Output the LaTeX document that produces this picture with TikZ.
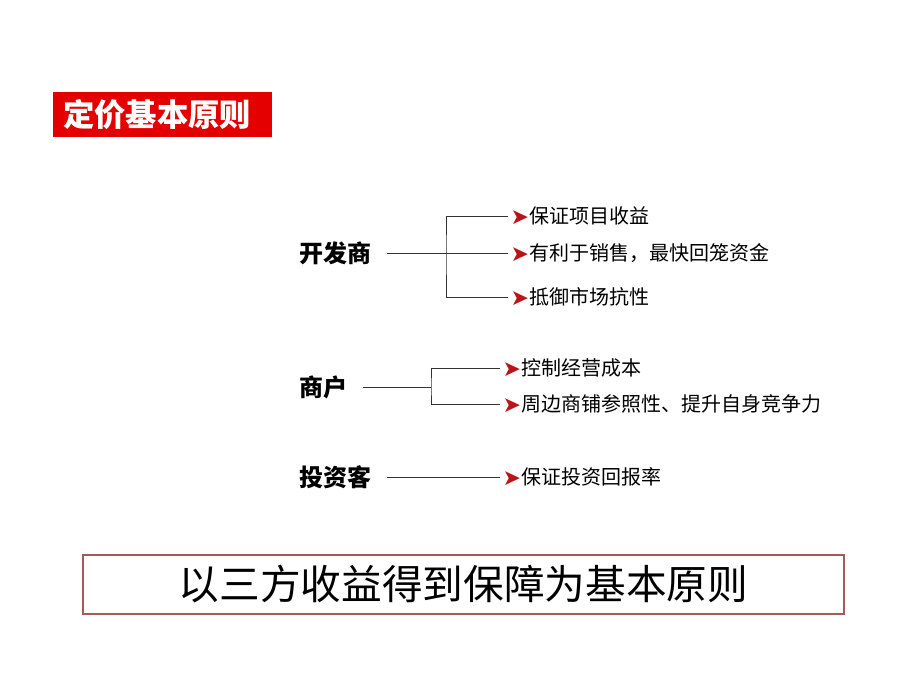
\documentclass[tikz,border=0pt]{standalone}
\usepackage{fontspec}
\setmainfont{Noto Sans CJK SC}
\newfontfamily\sym{DejaVu Sans}
\usepackage{tikz}

\definecolor{hdrred}{RGB}{228,0,0}
\definecolor{mkred}{RGB}{185,20,25}
\definecolor{boxline}{RGB}{165,90,90}

\tikzset{
  party/.style={anchor=west, inner sep=0pt, outer xsep=12pt, font=\bfseries\fontsize{18}{18}\selectfont},
  aim/.style={anchor=west, inner sep=0pt, outer xsep=2pt, font=\fontsize{15}{15}\selectfont},
  link/.style={line width=0.7pt, black!80}
}
\newcommand{\mk}{\raisebox{-0.5pt}{\sym\fontsize{16.5}{16.5}\selectfont\color{mkred}➤}\hspace{0.5pt}}

\begin{document}
\begin{tikzpicture}[x=0.75pt,y=-0.75pt]

\useasboundingbox (0,0) rectangle (920,690);

% title
\node (hdr) [anchor=north west, fill=hdrred, text=white, inner xsep=7.5pt,
  text width=149pt, align=left, minimum height=33.75pt,
  font=\bfseries\fontsize{23.5}{23.5}\selectfont] at (53,92) {定价基本原则};

% the three parties
\node (dev) [party] at (283,253) {开发商};
\node (mer) [party] at (283,387) {商户};
\node (inv) [party] at (283,477) {投资客};

% what each one wants
\node (dev1) [aim] at (508,216) {\mk 保证项目收益};
\node (dev2) [aim] at (508,253) {\mk 有利于销售，最快回笼资金};
\node (dev3) [aim] at (508,297) {\mk 抵御市场抗性};

\node (mer1) [aim] at (500,368) {\mk 控制经营成本};
\node (mer2) [aim] at (500,404) {\mk 周边商铺参照性、提升自身竞争力};

\node (inv1) [aim] at (500,477) {\mk 保证投资回报率};

\coordinate (devfork) at (446,253);
\coordinate (merfork) at (431,387);

\draw [link] (dev.east) -- (dev2.west);
\draw [link] (dev1.west) -| (devfork) |- (dev3.west);

\draw [link] (mer.east) -- (merfork);
\draw [link] (mer1.west) -| (merfork) |- (mer2.west);

\draw [link] (inv.east) -- (inv1.west);

% bottom line
\node (motto) [draw=boxline, line width=0.8pt, minimum width=570.75pt, minimum height=44.25pt,
  font=\fontsize{30.5}{30.5}\selectfont] at (463.5,584.5) {以三方收益得到保障为基本原则};

\end{tikzpicture}
\end{document}
